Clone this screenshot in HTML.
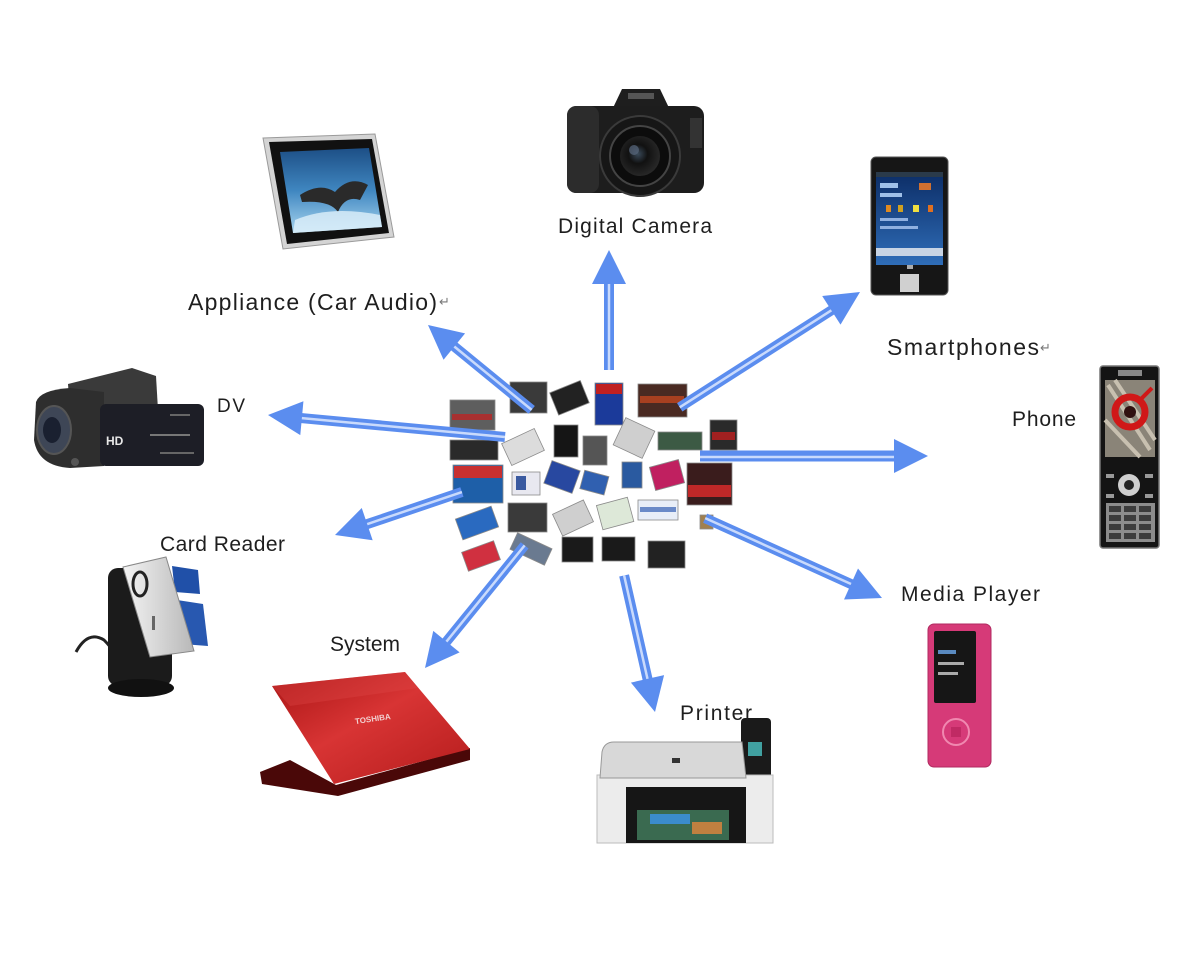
<!DOCTYPE html>
<html><head><meta charset="utf-8"><style>
html,body{margin:0;padding:0;background:#fff;}
svg{display:block;}
text{font-family:"Liberation Sans","DejaVu Sans",sans-serif;fill:#1e1e1e;}
</style></head><body>
<svg width="1200" height="954" viewBox="0 0 1200 954" xmlns="http://www.w3.org/2000/svg">
<defs>
<linearGradient id="scr" x1="0" y1="0" x2="0" y2="1"><stop offset="0" stop-color="#1d4f86"/><stop offset="0.5" stop-color="#3f86c0"/><stop offset="1" stop-color="#a9d6f0"/></linearGradient>
<linearGradient id="red" x1="0" y1="0" x2="1" y2="1"><stop offset="0" stop-color="#a81414"/><stop offset="0.45" stop-color="#d83434"/><stop offset="1" stop-color="#b41c1c"/></linearGradient>
<linearGradient id="sp" x1="0" y1="0" x2="0" y2="1"><stop offset="0" stop-color="#0c2d66"/><stop offset="1" stop-color="#2f6db8"/></linearGradient>
<linearGradient id="silver" x1="0" y1="0" x2="1" y2="0"><stop offset="0" stop-color="#f4f4f4"/><stop offset="1" stop-color="#b8b8b8"/></linearGradient>
<radialGradient id="lens" cx="0.45" cy="0.45" r="0.6"><stop offset="0" stop-color="#3a4a5a"/><stop offset="0.4" stop-color="#111"/><stop offset="1" stop-color="#2b2b2b"/></radialGradient>
</defs>

<!-- Digital photo frame -->
<polygon points="263,138 375,134 394,237 283,249" fill="#d4d4d4" stroke="#9a9a9a" stroke-width="1"/>
<polygon points="269,142 372,139 389,233 287,244" fill="#111"/>
<polygon points="280,152 369,148 382,227 293,233" fill="url(#scr)"/>
<path d="M300,195 Q320,182 335,192 Q350,175 368,185 L360,200 Q345,195 338,212 Q330,200 302,202 Z" fill="#2a2a2a"/>
<path d="M295,220 Q330,205 380,215 L382,227 L293,233 Z" fill="#dff0fa" opacity="0.8"/>

<!-- Digital camera -->
<polygon points="612,110 622,89 660,89 670,110" fill="#1e1e1e"/>
<rect x="567" y="106" width="137" height="87" rx="10" fill="#1d1d1d"/>
<rect x="567" y="106" width="32" height="87" rx="9" fill="#2c2c2c"/>
<rect x="690" y="118" width="12" height="30" fill="#333"/>
<circle cx="640" cy="156" r="40" fill="#161616" stroke="#3a3a3a" stroke-width="2"/>
<circle cx="640" cy="156" r="30" fill="#0c0c0c" stroke="#444" stroke-width="2"/>
<circle cx="640" cy="156" r="20" fill="url(#lens)"/>
<circle cx="634" cy="150" r="5" fill="#5a6a80" opacity="0.7"/>
<rect x="628" y="93" width="26" height="6" fill="#555"/>

<!-- Smartphone -->
<rect x="871" y="157" width="77" height="138" rx="5" fill="#161616" stroke="#555" stroke-width="1"/>
<rect x="876" y="172" width="67" height="93" fill="url(#sp)"/>
<rect x="876" y="172" width="67" height="5" fill="#2a3a4a"/>
<rect x="880" y="183" width="18" height="5" fill="#9fc0e8"/>
<rect x="880" y="193" width="22" height="4" fill="#9fc0e8"/>
<rect x="886" y="205" width="5" height="7" fill="#e08a20"/>
<rect x="898" y="205" width="5" height="7" fill="#d0a020"/>
<rect x="913" y="205" width="6" height="7" fill="#f0e040"/>
<rect x="928" y="205" width="5" height="7" fill="#e07020"/>
<rect x="919" y="183" width="12" height="7" fill="#d07030"/>
<rect x="880" y="218" width="28" height="3" fill="#8fb0e0"/>
<rect x="880" y="226" width="38" height="3" fill="#8fb0e0"/>
<rect x="876" y="248" width="67" height="8" fill="#c8d4e4"/>
<rect x="900" y="274" width="19" height="18" fill="#d0d0d0"/>
<rect x="907" y="265" width="6" height="4" fill="#aaa"/>

<!-- Phone -->
<rect x="1100" y="366" width="59" height="182" rx="3" fill="#141414" stroke="#777" stroke-width="1.5"/>
<rect x="1105" y="380" width="50" height="77" fill="#8a8478"/>
<path d="M1108,385 L1150,450 M1115,380 L1155,440 M1105,420 L1140,457" stroke="#c8c0b0" stroke-width="4"/>
<circle cx="1130" cy="412" r="15" fill="none" stroke="#d01818" stroke-width="7"/>
<circle cx="1130" cy="412" r="6" fill="#301010"/>
<path d="M1140,400 L1152,388" stroke="#d01818" stroke-width="4"/>
<rect x="1118" y="370" width="24" height="6" fill="#888"/>
<circle cx="1129" cy="485" r="11" fill="#cfcfcf"/>
<circle cx="1129" cy="485" r="5" fill="#222"/>
<rect x="1106" y="474" width="8" height="4" fill="#999"/>
<rect x="1145" y="474" width="8" height="4" fill="#999"/>
<rect x="1106" y="494" width="8" height="4" fill="#999"/>
<rect x="1145" y="494" width="8" height="4" fill="#999"/>
<rect x="1106" y="503" width="49" height="39" fill="#8c8c8c"/>
<g fill="#3c3c3c">
<rect x="1109" y="506" width="12" height="6"/><rect x="1124" y="506" width="12" height="6"/><rect x="1139" y="506" width="12" height="6"/>
<rect x="1109" y="515" width="12" height="6"/><rect x="1124" y="515" width="12" height="6"/><rect x="1139" y="515" width="12" height="6"/>
<rect x="1109" y="524" width="12" height="6"/><rect x="1124" y="524" width="12" height="6"/><rect x="1139" y="524" width="12" height="6"/>
<rect x="1109" y="533" width="12" height="6"/><rect x="1124" y="533" width="12" height="6"/><rect x="1139" y="533" width="12" height="6"/>
</g>

<!-- Camcorder -->
<polygon points="68,384 132,368 156,376 158,410 70,412" fill="#3a3a3a"/>
<path d="M36,402 Q40,390 70,388 L104,392 L104,466 L70,468 Q38,466 34,440 Z" fill="#2e2e2e"/>
<ellipse cx="54" cy="430" rx="17" ry="24" fill="#3e4656" stroke="#555" stroke-width="2"/>
<ellipse cx="52" cy="430" rx="9" ry="13" fill="#1a2030"/>
<rect x="100" y="404" width="104" height="62" rx="6" fill="#1d1e26"/>
<text x="106" y="445" font-size="12" font-weight="bold" style="fill:#e8e8e8">HD</text>
<rect x="150" y="434" width="40" height="2" fill="#777"/>
<rect x="160" y="452" width="34" height="2" fill="#666"/>
<rect x="170" y="414" width="20" height="2" fill="#666"/>
<circle cx="75" cy="462" r="4" fill="#555"/>

<!-- Card reader -->
<path d="M76,652 Q88,630 104,640 Q110,646 112,650" fill="none" stroke="#222" stroke-width="3"/>
<rect x="108" y="568" width="64" height="118" rx="10" fill="#1b1b1b"/>
<ellipse cx="141" cy="688" rx="33" ry="9" fill="#111"/>
<polygon points="172,566 198,570 200,594 175,592" fill="#2050a8"/>
<polygon points="177,600 203,604 208,646 182,644" fill="#2858b0"/>
<polygon points="123,567 166,557 194,651 150,657" fill="url(#silver)" stroke="#888" stroke-width="1"/>
<ellipse cx="140" cy="584" rx="7" ry="12" fill="none" stroke="#222" stroke-width="3"/>
<rect x="152" y="616" width="3" height="14" fill="#666"/>

<!-- Laptop -->
<polygon points="260,772 290,760 336,785 470,748 470,760 338,796 262,784" fill="#4a0808"/>
<polygon points="272,686 405,672 470,749 334,784" fill="url(#red)"/>
<polygon points="272,686 405,672 418,688 290,706" fill="#e04848" opacity="0.35"/>
<text x="355" y="722" font-size="8" font-weight="bold" transform="rotate(-8 370 720)" style="fill:#f2d0d0">TOSHIBA</text>

<!-- Printer -->
<rect x="741" y="718" width="30" height="75" rx="4" fill="#1a1a1a"/>
<rect x="748" y="742" width="14" height="14" fill="#40a0a0"/>
<rect x="597" y="775" width="176" height="68" fill="#ececec" stroke="#bbb"/>
<path d="M602,752 Q604,742 614,742 L742,742 L746,778 L600,778 Z" fill="#d8d8d8" stroke="#999"/>
<rect x="672" y="758" width="8" height="5" fill="#333"/>
<rect x="626" y="787" width="120" height="56" fill="#161616"/>
<rect x="637" y="810" width="92" height="30" fill="#3a6a50"/>
<rect x="650" y="814" width="40" height="10" fill="#3b8ccc"/>
<rect x="692" y="822" width="30" height="12" fill="#c08040"/>

<!-- Media player -->
<rect x="928" y="624" width="63" height="143" rx="6" fill="#d63a78" stroke="#b02a60" stroke-width="1"/>
<rect x="934" y="631" width="42" height="72" rx="2" fill="#161616"/>
<rect x="938" y="650" width="18" height="4" fill="#5a8ac0"/>
<rect x="938" y="662" width="26" height="3" fill="#aaa"/>
<rect x="938" y="672" width="20" height="3" fill="#aaa"/>
<circle cx="956" cy="732" r="13" fill="none" stroke="#f088b0" stroke-width="2"/>
<rect x="951" y="727" width="10" height="10" fill="#c02a64"/>

<!-- Memory cards cluster -->
<g stroke="#8a8a8a" stroke-width="0.8">
<rect x="450" y="400" width="45" height="30" fill="#5e5e5e"/><rect x="452" y="414" width="40" height="6" fill="#a83030" stroke="none"/>
<rect x="510" y="382" width="37" height="31" fill="#3a3a3a"/>
<rect x="553" y="386" width="33" height="24" fill="#222" transform="rotate(-22 569 398)"/>
<rect x="595" y="383" width="28" height="42" fill="#1b3a9a"/><rect x="596" y="384" width="26" height="10" fill="#c02020" stroke="none"/>
<rect x="638" y="384" width="49" height="33" fill="#4a2a22"/><rect x="640" y="396" width="44" height="7" fill="#a84020" stroke="none"/>
<rect x="450" y="440" width="48" height="20" fill="#2a2a2a"/>
<rect x="505" y="435" width="36" height="24" fill="#dcdcdc" transform="rotate(-25 523 447)"/>
<rect x="554" y="425" width="24" height="32" fill="#151515"/>
<rect x="583" y="436" width="24" height="29" fill="#555"/>
<rect x="618" y="423" width="32" height="30" fill="#cfcfcf" transform="rotate(25 634 438)"/>
<rect x="658" y="432" width="44" height="18" fill="#3c5a44"/>
<rect x="710" y="420" width="27" height="30" fill="#2a2a2a"/><rect x="712" y="432" width="23" height="8" fill="#a02020" stroke="none"/>
<rect x="453" y="465" width="50" height="38" fill="#1e5fa8"/><rect x="454" y="466" width="48" height="12" fill="#c83030" stroke="none"/>
<rect x="512" y="472" width="28" height="23" fill="#e8e8f0"/><rect x="516" y="476" width="10" height="14" fill="#3a5aa0" stroke="none"/>
<rect x="547" y="465" width="30" height="24" fill="#2848a0" transform="rotate(20 562 477)"/>
<rect x="582" y="473" width="25" height="19" fill="#3060b0" transform="rotate(15 594 482)"/>
<rect x="622" y="462" width="20" height="26" fill="#2a5aa0"/>
<rect x="652" y="463" width="30" height="24" fill="#c02060" transform="rotate(-15 667 475)"/>
<rect x="687" y="463" width="45" height="42" fill="#3a1c1c"/><rect x="688" y="485" width="43" height="12" fill="#c02828" stroke="none"/>
<rect x="458" y="512" width="38" height="22" fill="#2a6ac0" transform="rotate(-20 477 523)"/>
<rect x="508" y="503" width="39" height="29" fill="#3a3a3a"/>
<rect x="556" y="506" width="34" height="24" fill="#cfcfcf" transform="rotate(-25 573 518)"/>
<rect x="599" y="501" width="32" height="25" fill="#dde8d8" transform="rotate(-15 615 513)"/>
<rect x="638" y="500" width="40" height="20" fill="#e8eef8"/><rect x="640" y="507" width="36" height="5" fill="#6a8ac8" stroke="none"/>
<rect x="464" y="546" width="34" height="20" fill="#d03040" transform="rotate(-20 481 556)"/>
<rect x="512" y="540" width="38" height="18" fill="#6a7a90" transform="rotate(25 531 549)"/>
<rect x="562" y="537" width="31" height="25" fill="#1a1a1a"/>
<rect x="602" y="537" width="33" height="24" fill="#1a1a1a"/>
<rect x="648" y="541" width="37" height="27" fill="#222"/>
<rect x="700" y="515" width="13" height="14" fill="#a08050"/>
</g>

<!-- Arrows -->
<g id="arrows">
<g transform="translate(609,250) rotate(-90)"><line x1="-120" y1="0" x2="-30" y2="0" stroke="#5b8def" stroke-width="10"/><line x1="-120" y1="0" x2="-30" y2="0" stroke="#c9dafc" stroke-width="2.5"/><polygon points="0,0 -34,-17 -34,17" fill="#5b8def"/></g>
<g transform="translate(860,292) rotate(-32.6)"><line x1="-214" y1="0" x2="-30" y2="0" stroke="#5b8def" stroke-width="10"/><line x1="-214" y1="0" x2="-30" y2="0" stroke="#c9dafc" stroke-width="2.5"/><polygon points="0,0 -34,-17 -34,17" fill="#5b8def"/></g>
<g transform="translate(928,456) rotate(0)"><line x1="-228" y1="0" x2="-30" y2="0" stroke="#5b8def" stroke-width="11"/><line x1="-228" y1="1" x2="-30" y2="1" stroke="#c9dafc" stroke-width="2.5"/><polygon points="0,0 -34,-17 -34,17" fill="#5b8def"/></g>
<g transform="translate(882,598) rotate(24.3)"><line x1="-194" y1="0" x2="-30" y2="0" stroke="#5b8def" stroke-width="10"/><line x1="-194" y1="0" x2="-30" y2="0" stroke="#c9dafc" stroke-width="2.5"/><polygon points="0,0 -34,-17 -34,17" fill="#5b8def"/></g>
<g transform="translate(655,712) rotate(77.25)"><line x1="-140" y1="0" x2="-30" y2="0" stroke="#5b8def" stroke-width="10"/><line x1="-140" y1="0" x2="-30" y2="0" stroke="#c9dafc" stroke-width="2.5"/><polygon points="0,0 -34,-17 -34,17" fill="#5b8def"/></g>
<g transform="translate(425,668) rotate(129.1)"><line x1="-158" y1="0" x2="-30" y2="0" stroke="#5b8def" stroke-width="10"/><line x1="-158" y1="0" x2="-30" y2="0" stroke="#c9dafc" stroke-width="2.5"/><polygon points="0,0 -34,-17 -34,17" fill="#5b8def"/></g>
<g transform="translate(335,535) rotate(161.3)"><line x1="-134" y1="0" x2="-30" y2="0" stroke="#5b8def" stroke-width="10"/><line x1="-134" y1="0" x2="-30" y2="0" stroke="#c9dafc" stroke-width="2.5"/><polygon points="0,0 -34,-17 -34,17" fill="#5b8def"/></g>
<g transform="translate(268,415) rotate(-174.7)"><line x1="-238" y1="0" x2="-30" y2="0" stroke="#5b8def" stroke-width="10"/><line x1="-238" y1="0" x2="-30" y2="0" stroke="#c9dafc" stroke-width="2.5"/><polygon points="0,0 -34,-17 -34,17" fill="#5b8def"/></g>
<g transform="translate(428,325) rotate(-140.7)"><line x1="-134" y1="0" x2="-30" y2="0" stroke="#5b8def" stroke-width="10"/><line x1="-134" y1="0" x2="-30" y2="0" stroke="#c9dafc" stroke-width="2.5"/><polygon points="0,0 -34,-17 -34,17" fill="#5b8def"/></g>
</g>

<!-- Labels -->
<text x="558" y="233" font-size="21" textLength="154" lengthAdjust="spacing">Digital Camera</text>
<text x="188" y="310" font-size="23" textLength="249" lengthAdjust="spacing">Appliance (Car Audio)</text>
<text x="439" y="306" font-size="13" style="fill:#777">↵</text>
<text x="887" y="355" font-size="23" textLength="152" lengthAdjust="spacing">Smartphones</text>
<text x="1040" y="352" font-size="13" style="fill:#777">↵</text>
<text x="1012" y="426" font-size="21" textLength="64" lengthAdjust="spacing">Phone</text>
<text x="217" y="412" font-size="19" textLength="28" lengthAdjust="spacing">DV</text>
<text x="160" y="551" font-size="21" textLength="125" lengthAdjust="spacing">Card Reader</text>
<text x="330" y="651" font-size="21" textLength="70" lengthAdjust="spacing">System</text>
<text x="901" y="601" font-size="21" textLength="139" lengthAdjust="spacing">Media Player</text>
<text x="680" y="720" font-size="21" textLength="72" lengthAdjust="spacing">Printer</text>
</svg>
</body></html>
